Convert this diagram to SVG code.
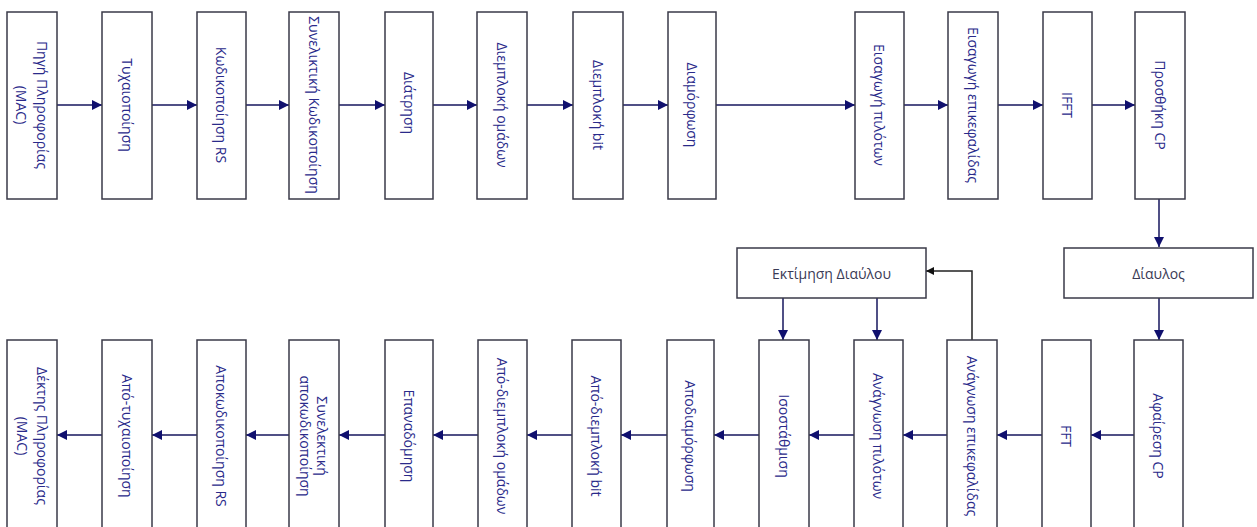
<svg xmlns="http://www.w3.org/2000/svg" width="1257" height="527" viewBox="0 0 1257 527">
<defs>
<style>
.box{fill:#fff;stroke:#3a3a48;stroke-width:1.5}
.lbl{font-family:"Open Sans","Noto Sans",sans-serif;font-size:14px;fill:#2a2a8a;text-anchor:middle;dominant-baseline:central}
.hl{font-family:"Open Sans","Noto Sans",sans-serif;font-size:14px;fill:#3a3a55;text-anchor:middle;dominant-baseline:central}
.conn{stroke:#16165e;stroke-width:1.5;fill:none}
.fb{stroke:#222;stroke-width:1.5;fill:none}
</style>
<marker id="arr" markerUnits="userSpaceOnUse" markerWidth="11" markerHeight="11" refX="10" refY="5" orient="auto">
<path d="M0,0 L10,5 L0,10 z" fill="#10106e"/>
</marker>
<marker id="arrk" markerUnits="userSpaceOnUse" markerWidth="9" markerHeight="9" refX="8" refY="4" orient="auto">
<path d="M0,0 L8,4 L0,8 z" fill="#111"/>
</marker>
</defs>
<rect width="1257" height="527" fill="#fff"/>

<g id="connectors">
<line class="conn" x1="57" y1="105" x2="102" y2="105" marker-end="url(#arr)"/>
<line class="conn" x1="152" y1="105" x2="197" y2="105" marker-end="url(#arr)"/>
<line class="conn" x1="246" y1="105" x2="289" y2="105" marker-end="url(#arr)"/>
<line class="conn" x1="339" y1="105" x2="385" y2="105" marker-end="url(#arr)"/>
<line class="conn" x1="433" y1="105" x2="477" y2="105" marker-end="url(#arr)"/>
<line class="conn" x1="527" y1="105" x2="573" y2="105" marker-end="url(#arr)"/>
<line class="conn" x1="623" y1="105" x2="668" y2="105" marker-end="url(#arr)"/>
<line class="conn" x1="716" y1="105" x2="855" y2="105" marker-end="url(#arr)"/>
<line class="conn" x1="904" y1="105" x2="948" y2="105" marker-end="url(#arr)"/>
<line class="conn" x1="998" y1="105" x2="1043" y2="105" marker-end="url(#arr)"/>
<line class="conn" x1="1092" y1="105" x2="1135" y2="105" marker-end="url(#arr)"/>
<line class="conn" x1="1159" y1="199" x2="1159" y2="247" marker-end="url(#arr)"/>
<line class="conn" x1="1159" y1="298" x2="1159" y2="340" marker-end="url(#arr)"/>
<line class="conn" x1="1134" y1="435" x2="1091" y2="435" marker-end="url(#arr)"/>
<line class="conn" x1="1042" y1="435" x2="997" y2="435" marker-end="url(#arr)"/>
<line class="conn" x1="947" y1="435" x2="903" y2="435" marker-end="url(#arr)"/>
<line class="conn" x1="854" y1="435" x2="809" y2="435" marker-end="url(#arr)"/>
<line class="conn" x1="759" y1="435" x2="714" y2="435" marker-end="url(#arr)"/>
<line class="conn" x1="667" y1="435" x2="621" y2="435" marker-end="url(#arr)"/>
<line class="conn" x1="572" y1="435" x2="527" y2="435" marker-end="url(#arr)"/>
<line class="conn" x1="478" y1="435" x2="433" y2="435" marker-end="url(#arr)"/>
<line class="conn" x1="385" y1="435" x2="339" y2="435" marker-end="url(#arr)"/>
<line class="conn" x1="289" y1="435" x2="246" y2="435" marker-end="url(#arr)"/>
<line class="conn" x1="197" y1="435" x2="152" y2="435" marker-end="url(#arr)"/>
<line class="conn" x1="102" y1="435" x2="57" y2="435" marker-end="url(#arr)"/>
<line class="conn" x1="783" y1="298" x2="783" y2="340" marker-end="url(#arr)"/>
<line class="conn" x1="877" y1="298" x2="877" y2="340" marker-end="url(#arr)"/>
<polyline class="fb" points="972,340 972,271 926,271" marker-end="url(#arrk)"/>
</g>

<g id="tx1"><rect class="box" x="7" y="12" width="50" height="187"/><g transform="translate(32,105) rotate(90)"><text class="lbl" x="0" y="-10">Πηγή Πληροφορίας</text><text class="lbl" x="0" y="11">(MAC)</text></g></g>
<g id="tx2"><rect class="box" x="102" y="12" width="50" height="187"/><text class="lbl" transform="translate(127,105) rotate(90)">Τυχαιοποίηση</text></g>
<g id="tx3"><rect class="box" x="197" y="12" width="49" height="187"/><text class="lbl" transform="translate(221.5,105) rotate(90)">Κωδικοποίηση RS</text></g>
<g id="tx4"><rect class="box" x="289" y="12" width="50" height="187"/><text class="lbl" transform="translate(314,105) rotate(90)">Συνελικτική Κωδικοποίηση</text></g>
<g id="tx5"><rect class="box" x="385" y="12" width="48" height="187"/><text class="lbl" transform="translate(409,103) rotate(90)">Διάτρηση</text></g>
<g id="tx6"><rect class="box" x="477" y="12" width="50" height="187"/><text class="lbl" transform="translate(502,105) rotate(90)">Διεμπλοκή ομάδων</text></g>
<g id="tx7"><rect class="box" x="573" y="12" width="50" height="187"/><text class="lbl" transform="translate(598,105) rotate(90)">Διεμπλοκή bit</text></g>
<g id="tx8"><rect class="box" x="668" y="12" width="48" height="187"/><text class="lbl" transform="translate(692,105) rotate(90)">Διαμόρφωση</text></g>
<g id="tx9"><rect class="box" x="855" y="12" width="49" height="187"/><text class="lbl" transform="translate(879.5,105) rotate(90)">Εισαγωγή πιλότων</text></g>
<g id="tx10"><rect class="box" x="948" y="12" width="50" height="187"/><text class="lbl" transform="translate(973,105) rotate(90)">Εισαγωγή επικεφαλίδας</text></g>
<g id="tx11"><rect class="box" x="1043" y="12" width="49" height="187"/><text class="lbl" transform="translate(1067.5,105) rotate(90)">IFFT</text></g>
<g id="tx12"><rect class="box" x="1135" y="12" width="50" height="187"/><text class="lbl" transform="translate(1160,105) rotate(90)">Προσθήκη CP</text></g>

<g id="channel"><rect class="box" x="1064" y="248" width="189" height="50"/><text class="hl" x="1158.5" y="273">Δίαυλος</text></g>
<g id="chest"><rect class="box" x="737" y="248" width="189" height="50"/><text class="hl" x="831.5" y="273">Εκτίμηση Διαύλου</text></g>

<g id="rx1"><rect class="box" x="7" y="340" width="50" height="200"/><g transform="translate(32,436) rotate(90)"><text class="lbl" x="0" y="-10">Δέκτης Πληροφορίας</text><text class="lbl" x="0" y="10">(MAC)</text></g></g>
<g id="rx2"><rect class="box" x="102" y="340" width="50" height="200"/><text class="lbl" transform="translate(127,436) rotate(90)">Από-τυχαιοποίηση</text></g>
<g id="rx3"><rect class="box" x="197" y="340" width="49" height="200"/><text class="lbl" transform="translate(221.5,436) rotate(90)">Αποκωδικοποίηση RS</text></g>
<g id="rx4"><rect class="box" x="289" y="340" width="50" height="200"/><g transform="translate(314,436) rotate(90)"><text class="lbl" x="0" y="-8">Συνελεκτική</text><text class="lbl" x="0" y="9">αποκωδικοποίηση</text></g></g>
<g id="rx5"><rect class="box" x="385" y="340" width="48" height="200"/><text class="lbl" transform="translate(409,436) rotate(90)">Επαναδόμηση</text></g>
<g id="rx6"><rect class="box" x="478" y="340" width="49" height="200"/><text class="lbl" transform="translate(502.5,436) rotate(90)">Από-διεμπλοκή ομάδων</text></g>
<g id="rx7"><rect class="box" x="572" y="340" width="49" height="200"/><text class="lbl" transform="translate(596.5,436) rotate(90)">Από-διεμπλοκή bit</text></g>
<g id="rx8"><rect class="box" x="667" y="340" width="47" height="200"/><text class="lbl" transform="translate(690.5,436) rotate(90)">Αποδιαμόρφωση</text></g>
<g id="rx9"><rect class="box" x="759" y="340" width="50" height="200"/><text class="lbl" transform="translate(784,436) rotate(90)">Ισοστάθμιση</text></g>
<g id="rx10"><rect class="box" x="854" y="340" width="49" height="200"/><text class="lbl" transform="translate(878.5,436) rotate(90)">Ανάγνωση πιλότων</text></g>
<g id="rx11"><rect class="box" x="947" y="340" width="50" height="200"/><text class="lbl" transform="translate(972,436) rotate(90)">Ανάγνωση επικεφαλίδας</text></g>
<g id="rx12"><rect class="box" x="1042" y="340" width="49" height="200"/><text class="lbl" transform="translate(1066.5,436) rotate(90)">FFT</text></g>
<g id="rx13"><rect class="box" x="1134" y="340" width="49" height="200"/><text class="lbl" transform="translate(1158.5,436) rotate(90)">Αφαίρεση CP</text></g>
</svg>
